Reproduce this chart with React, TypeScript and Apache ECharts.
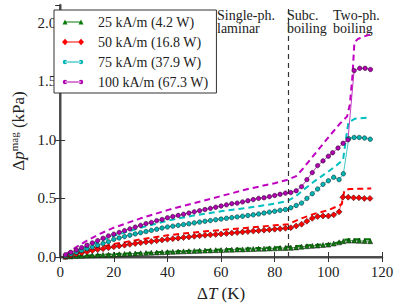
import React, { useEffect, useRef } from "react";
import * as echarts from "echarts";

// ---------- data ----------
const xLow = [2, 4, 6, 8, 10, 12, 14, 16, 18, 20, 22, 24, 26, 28, 30, 32, 34, 36, 38, 40, 42, 44, 46, 48, 50, 52, 54, 56, 58, 60, 62, 64, 66, 68, 70, 72, 74, 76, 78, 80, 82, 84];

const g25Low = [0.002, 0.005, 0.008, 0.01, 0.012, 0.014, 0.016, 0.018, 0.02, 0.022, 0.024, 0.026, 0.028, 0.03, 0.032, 0.034, 0.036, 0.038, 0.04, 0.042, 0.044, 0.046, 0.048, 0.05, 0.052, 0.053, 0.055, 0.056, 0.058, 0.059, 0.061, 0.062, 0.064, 0.065, 0.067, 0.068, 0.07, 0.071, 0.073, 0.074, 0.076, 0.077];
const g25TailX = [86, 88, 90, 92, 94, 96, 98, 100, 102, 104, 105.6, 107.6, 109.6, 111.5, 113.5, 115.6];
const g25TailY = [0.078, 0.082, 0.088, 0.092, 0.095, 0.098, 0.102, 0.106, 0.115, 0.125, 0.135, 0.14, 0.14, 0.138, 0.136, 0.135];

const r50Low = [0.005, 0.015, 0.025, 0.035, 0.045, 0.055, 0.063, 0.071, 0.079, 0.087, 0.094, 0.101, 0.108, 0.115, 0.121, 0.127, 0.133, 0.139, 0.145, 0.151, 0.156, 0.161, 0.166, 0.171, 0.176, 0.181, 0.185, 0.189, 0.193, 0.197, 0.201, 0.205, 0.209, 0.213, 0.217, 0.221, 0.225, 0.229, 0.233, 0.237, 0.241, 0.245];
const r50TailX = [86, 88, 90, 92, 94, 96, 98, 100, 102, 104, 105.4, 107.4, 109.4, 111.4, 113.4, 115.5];
const r50TailY = [0.25, 0.265, 0.28, 0.305, 0.33, 0.345, 0.35, 0.35, 0.36, 0.385, 0.51, 0.51, 0.505, 0.505, 0.5, 0.5];

const c75Low = [0.01, 0.025, 0.04, 0.055, 0.07, 0.085, 0.1, 0.115, 0.13, 0.15, 0.162, 0.174, 0.186, 0.197, 0.207, 0.217, 0.227, 0.237, 0.247, 0.256, 0.263, 0.27, 0.277, 0.284, 0.291, 0.298, 0.305, 0.311, 0.318, 0.324, 0.33, 0.336, 0.342, 0.348, 0.354, 0.36, 0.367, 0.375, 0.383, 0.39, 0.398, 0.405];
const c75TailX = [86, 88, 90, 92, 94, 96, 98, 100, 102, 104, 105.6, 107.6, 109.6, 111.5, 113.5, 115.6];
const c75TailY = [0.42, 0.44, 0.46, 0.5, 0.54, 0.58, 0.62, 0.65, 0.68, 0.66, 0.71, 1.01, 1.02, 1.02, 1.015, 1.005];

const m100Low = [0.02, 0.04, 0.06, 0.08, 0.1, 0.12, 0.14, 0.16, 0.18, 0.195, 0.21, 0.225, 0.24, 0.255, 0.27, 0.285, 0.295, 0.31, 0.32, 0.335, 0.345, 0.355, 0.365, 0.375, 0.385, 0.395, 0.405, 0.415, 0.425, 0.435, 0.445, 0.455, 0.46, 0.47, 0.48, 0.49, 0.5, 0.505, 0.515, 0.525, 0.535, 0.545];
const m100TailX = [86, 88, 90, 92, 94, 96, 98, 100, 101.6, 103.6, 105.5, 107.3, 109.6, 111.7, 113.7, 115.7];
const m100TailY = [0.55, 0.565, 0.6, 0.66, 0.72, 0.78, 0.82, 0.86, 0.89, 0.93, 0.97, 1.0, 1.59, 1.61, 1.61, 1.6];

// model (dashed) curves
const gDashX = [2, 20, 40, 60, 80, 85, 90, 95, 100, 104, 106, 108, 116];
const gDashY = [0.002, 0.025, 0.045, 0.065, 0.082, 0.088, 0.097, 0.103, 0.112, 0.125, 0.148, 0.152, 0.152];
const rDashX = [2, 10, 20, 30, 40, 50, 60, 70, 80, 85, 88, 90, 95, 100, 103, 105, 106, 108, 116];
const rDashY = [0.005, 0.06, 0.11, 0.15, 0.185, 0.21, 0.23, 0.25, 0.27, 0.28, 0.31, 0.33, 0.37, 0.4, 0.43, 0.45, 0.57, 0.58, 0.585];
const cDashX = [2, 10, 20, 30, 40, 50, 60, 70, 80, 85, 88, 90, 95, 100, 103, 105.5, 106.5, 107.5, 110, 115];
const cDashY = [0.01, 0.09, 0.18, 0.25, 0.31, 0.355, 0.39, 0.42, 0.455, 0.48, 0.52, 0.56, 0.65, 0.73, 0.78, 0.83, 1.0, 1.15, 1.18, 1.19];
const mDashX = [2, 5, 10, 15, 20, 30, 40, 50, 60, 70, 80, 85, 88, 90, 95, 100, 104, 107, 108, 109, 109.7, 111, 113, 116];
const mDashY = [0.02, 0.07, 0.14, 0.2, 0.25, 0.33, 0.4, 0.46, 0.52, 0.58, 0.63, 0.66, 0.69, 0.74, 0.88, 1.02, 1.13, 1.2, 1.3, 1.55, 1.83, 1.86, 1.88, 1.9];

const seriesNames = ["25 kA/m (4.2 W)", "50 kA/m (16.8 W)", "75 kA/m (37.9 W)", "100 kA/m (67.3 W)"];
const regimeLabels = ["Single-ph.\nlaminar", "Subc.\nboiling", "Two-ph.\nboiling"];
const regimeBoundary = 85;
const xTicks = { min: 0, max: 120, interval: 20 };
const yTicks = { min: 0, max: 2.15, interval: 0.5 };

// ---------- helpers ----------
const pairs = (xs: number[], ys: number[]) => xs.map((x, i) => [x, ys[i]]);
const FONT = "Liberation Serif";
const TXT = "#222";

// legend handles: line with a marker at each end (matplotlib style)
const LINE = "M3,3.1L19,3.1L19,3.9L3,3.9Z";
const ICON_TRI = "path://M0.5,6L3,1L5.5,6Z M16.5,6L19,1L21.5,6Z " + LINE + " M0,0L0,0.01Z M22,7L22,6.99Z";
const ICON_DIA = "path://M0,3.5L3,0.3L6,3.5L3,6.7Z M16,3.5L19,0.3L22,3.5L19,6.7Z " + LINE + " M0,0L0,0.01Z M22,7L22,6.99Z";
const ICON_CIR =
  "path://M0.8,3.5A2.2,2.2 0 1 0 5.2,3.5A2.2,2.2 0 1 0 0.8,3.5Z M16.8,3.5A2.2,2.2 0 1 0 21.2,3.5A2.2,2.2 0 1 0 16.8,3.5Z " +
  LINE +
  " M0,0L0,0.01Z M22,7L22,6.99Z";
const legendIcons = [ICON_TRI, ICON_DIA, ICON_CIR, ICON_CIR];

export default function App() {
  const ref = useRef<HTMLDivElement>(null);
  useEffect(() => {
    if (!ref.current) return;
    const chart = echarts.init(ref.current, null, { renderer: "svg" });

    const markerSeries = (name: string, xs: number[], ys: number[], color: string, symbol: string, size: number) => ({
      name,
      type: "line",
      data: pairs(xs, ys),
      symbol,
      symbolSize: size,
      showSymbol: true,
      z: 5,
      itemStyle: { color, borderColor: "#111", borderWidth: 0.5 },
      lineStyle: { color, width: 1, opacity: 0.75 },
      emphasis: { disabled: true },
    });
    const dashSeries = (xs: number[], ys: number[], color: string, extra: any = {}) => ({
      type: "line",
      data: pairs(xs, ys),
      symbol: "none",
      z: 3,
      lineStyle: { color, width: 2, type: [6, 4] },
      emphasis: { disabled: true },
      ...extra,
    });

    const axisCommon = {
      type: "value",
      axisTick: { inside: true, length: 5, lineStyle: { color: "#333", width: 1 } },
      splitLine: { show: false },
    };

    chart.setOption({
      animation: false,
      backgroundColor: "#fff",
      textStyle: { fontFamily: FONT },
      grid: { left: 49, right: 17, top: 5, bottom: 44 },
      legend: {
        data: seriesNames.map((name, i) => ({ name, icon: legendIcons[i] })),
        orient: "vertical",
        left: 54,
        top: 10,
        padding: [5, 8, 4, 8],
        itemWidth: 22,
        itemHeight: 7,
        itemGap: 6,
        borderColor: "#333",
        borderWidth: 1,
        backgroundColor: "#fff",
        itemStyle: { borderWidth: 0 },
        textStyle: { fontFamily: FONT, fontSize: 14, color: TXT, lineHeight: 14, padding: [0, 0, 0, 9] },
      },
      xAxis: [
        {
          ...axisCommon,
          ...xTicks,
          position: "bottom",
          axisLine: { lineStyle: { color: "#8a8a8a", width: 2.5 } },
          axisLabel: { fontFamily: FONT, fontSize: 15, color: TXT, margin: 7 },
          name: "{n|Δ}{i|T}{n| (K)}",
          nameLocation: "middle",
          nameGap: 28,
          nameTextStyle: {
            rich: {
              n: { fontFamily: FONT, fontSize: 17, color: TXT },
              i: { fontFamily: FONT, fontSize: 17, color: TXT, fontStyle: "italic" },
            },
          },
        },
        {
          ...axisCommon,
          ...xTicks,
          position: "top",
          axisLine: { lineStyle: { color: "#333", width: 1.5 } },
          axisLabel: { show: false },
        },
      ],
      yAxis: [
        {
          ...axisCommon,
          ...yTicks,
          position: "left",
          axisLine: { lineStyle: { color: "#8a8a8a", width: 2.5 } },
          axisLabel: {
            fontFamily: FONT,
            fontSize: 15,
            color: TXT,
            margin: 4,
            showMaxLabel: false,
            formatter: (v: number) => (Math.abs(v / 0.5 - Math.round(v / 0.5)) < 1e-6 ? v.toFixed(1) : ""),
          },
          name: "{n|Δ}{i|p}{s|mag}{n| (kPa)}",
          nameLocation: "middle",
          nameRotate: 90,
          nameGap: 29,
          nameTextStyle: {
            rich: {
              n: { fontFamily: FONT, fontSize: 17, color: TXT, lineHeight: 20, verticalAlign: "middle" },
              i: { fontFamily: FONT, fontSize: 17, color: TXT, fontStyle: "italic", lineHeight: 20, verticalAlign: "middle" },
              s: { fontFamily: FONT, fontSize: 11, color: TXT, lineHeight: 10, verticalAlign: "top" },
            },
          },
        },
        {
          ...axisCommon,
          ...yTicks,
          position: "right",
          axisLine: { lineStyle: { color: "#333", width: 1.5 } },
          axisLabel: { show: false },
        },
      ],
      graphic: [
        { type: "text", left: 217, top: 8, style: { text: regimeLabels[0], fontFamily: FONT, fontSize: 14, fill: TXT, lineHeight: 13.5 } },
        { type: "text", left: 287, top: 8, style: { text: regimeLabels[1], fontFamily: FONT, fontSize: 14, fill: TXT, lineHeight: 13.5 } },
        { type: "text", left: 333, top: 8, style: { text: regimeLabels[2], fontFamily: FONT, fontSize: 14, fill: TXT, lineHeight: 13.5 } },
      ],
      series: [
        dashSeries(gDashX, gDashY, "#008000", {
          markLine: {
            silent: true,
            symbol: "none",
            label: { show: false },
            lineStyle: { type: [5, 4], color: "#333", width: 1.2 },
            data: [{ xAxis: regimeBoundary }],
          },
        }),
        dashSeries(rDashX, rDashY, "#ff0000"),
        dashSeries(cDashX, cDashY, "#00bfbf"),
        dashSeries(mDashX, mDashY, "#bf00bf"),
        markerSeries(seriesNames[0], [...xLow, ...g25TailX], [...g25Low, ...g25TailY], "#0a7a0a", "triangle", 5),
        markerSeries(seriesNames[1], [...xLow, ...r50TailX], [...r50Low, ...r50TailY], "#ff0000", "diamond", 6),
        markerSeries(seriesNames[2], [...xLow, ...c75TailX], [...c75Low, ...c75TailY], "#00b4b4", "circle", 4.5),
        markerSeries(seriesNames[3], [...xLow, ...m100TailX], [...m100Low, ...m100TailY], "#b000b0", "circle", 4.5),
      ],
    });
    return () => chart.dispose();
  }, []);
  return <div ref={ref} style={{ position: "absolute", left: 0, top: 0, width: 399, height: 307, background: "#fff" }} />;
}
